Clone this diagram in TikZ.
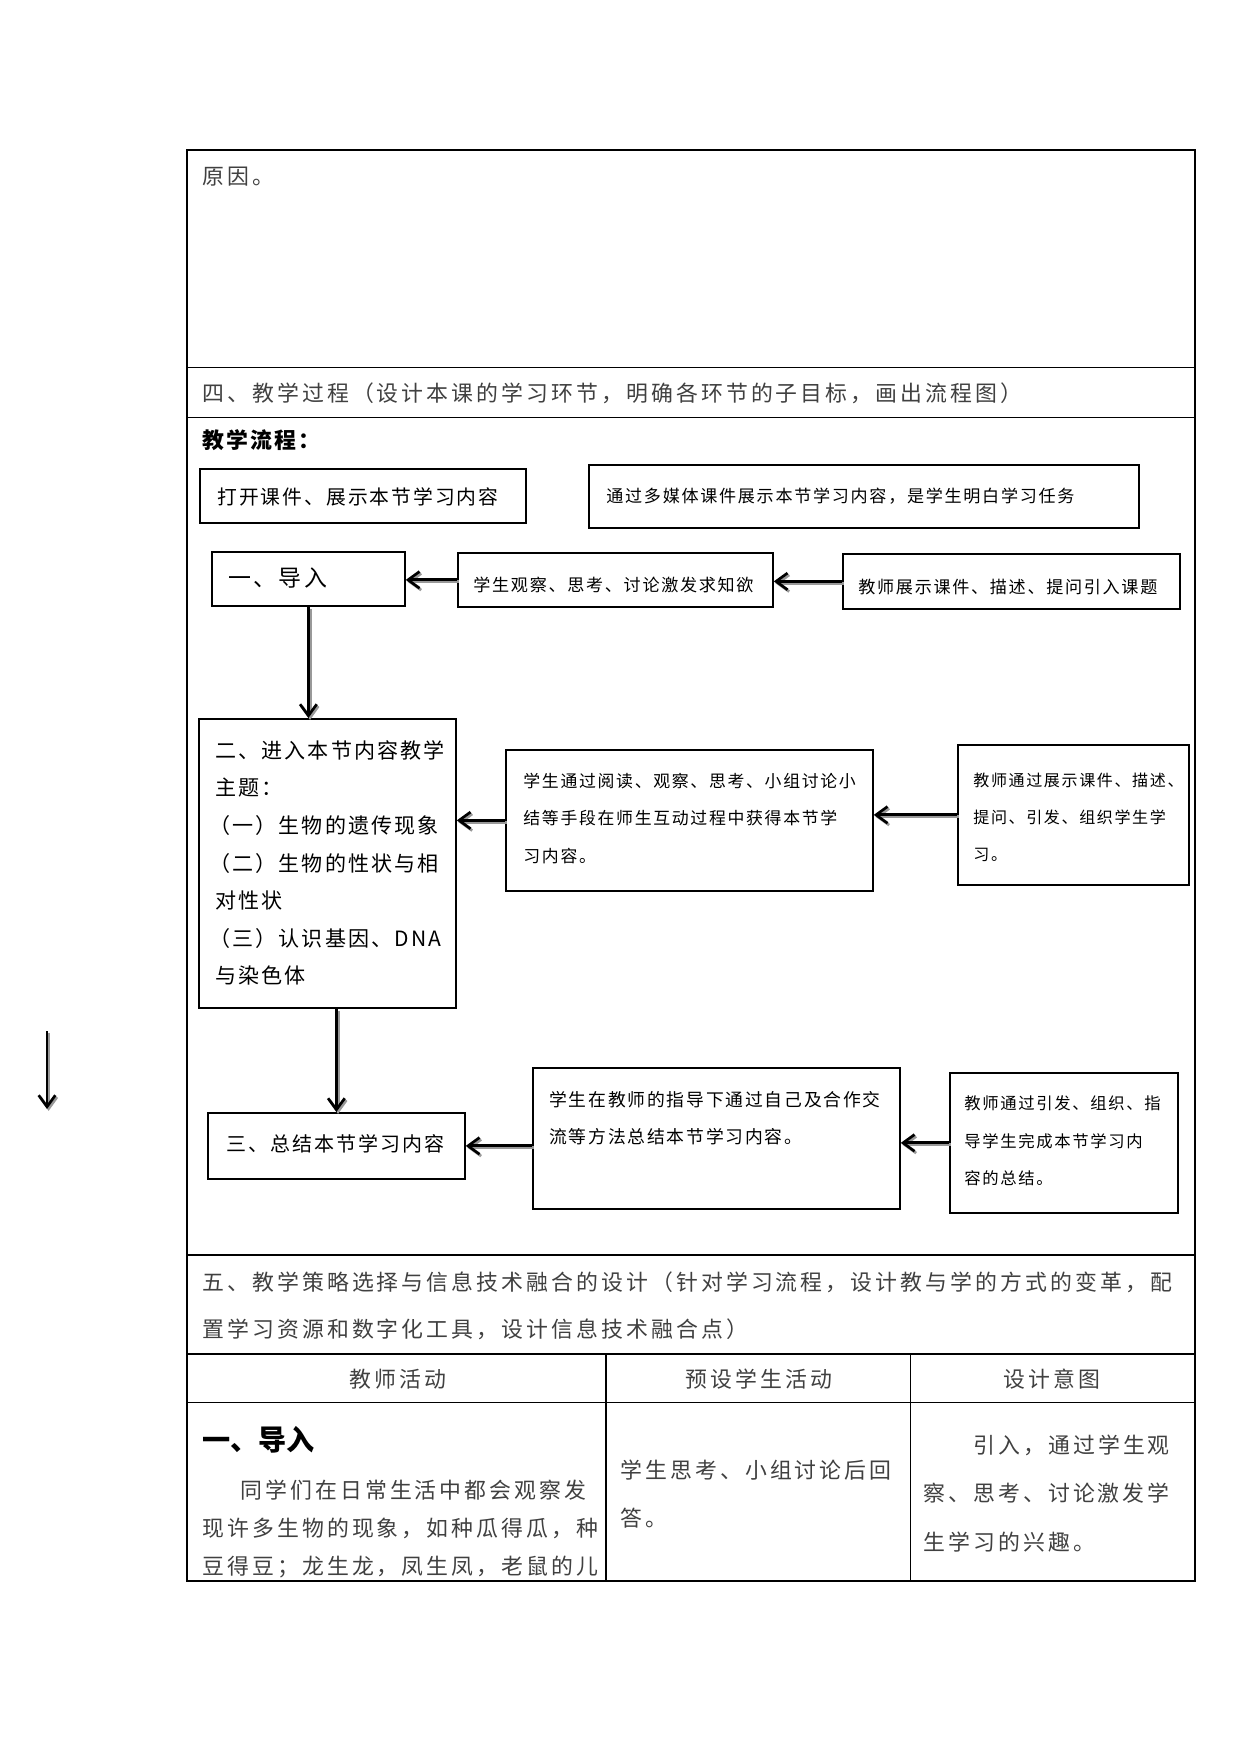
\documentclass[tikz,border=0pt]{standalone}
\usepackage{fontspec}
\setmainfont{Noto Sans CJK SC}
\newfontfamily\tabf[LetterSpace=14]{Noto Sans CJK SC}
\newfontfamily\boxf[LetterSpace=10]{Noto Sans CJK SC}
\newfontfamily\plainf{Noto Sans CJK SC}
\usetikzlibrary{arrows.meta}
\newcommand\flowbox[5]{\node[fbox, minimum width={(#4-#2)*0.48pt}, minimum height={(#5-#3)*0.48pt}] (#1) at (#2,#3) {};}
\newcommand\bsz[1]{\boxf\fontsize{#1pt}{#1pt}\selectfont}
\tikzset{
  tline/.style={line width=0.55pt, black},
  fbox/.style={draw, line width=0.85pt, inner sep=0pt, anchor=north west},
  ttxt/.style={inner sep=0pt, anchor=west, text=black!75, font=\tabf\fontsize{10.5pt}{12pt}\selectfont},
  btxt/.style={inner sep=0pt, anchor=west, text=black},
  arr/.style={line width=1.4pt, -{Straight Barb[length=5.5pt,width=8pt,line width=1.3pt]},
    preaction={draw=black!40, line width=1.4pt, -{Straight Barb[length=5.5pt,width=8pt,line width=1.3pt]},
      transform canvas={shift={(0.8pt,-0.9pt)}}}},
}
\begin{document}
\begin{tikzpicture}[x=0.48pt, y=-0.48pt]
\useasboundingbox (0,0) rectangle (1241,1754);

% ---------- table grid ----------
\draw[tline] (187,150) rectangle (1195,1581);
\draw[tline] (187,367.5) -- (1195,367.5);
\draw[tline] (187,417.5) -- (1195,417.5);
\draw[tline] (187,1255) -- (1195,1255);
\draw[tline] (187,1354) -- (1195,1354);
\draw[tline] (187,1402.5) -- (1195,1402.5);
\draw[tline] (606,1354) -- (606,1581);
\draw[tline] (910.5,1354) -- (910.5,1581);

% ---------- table texts ----------
\node[ttxt] (reason) at (202,177) {原因。};
\node[ttxt] (sec4) at (202,393) {四、教学过程（设计本课的学习环节，明确各环节的子目标，画出流程图）};
\node[btxt, font=\boxf\bfseries\fontsize{10.5pt}{12pt}\selectfont] (flowtitle) at (202,440) {教学流程：};

% ---------- flow boxes ----------
\flowbox{open}{199}{468}{525}{522}
\node[btxt, font=\bsz{9.5}] (opent) at (217,497) {打开课件、展示本节学习内容};

\flowbox{media}{588}{464}{1138}{527}
\node[btxt, font=\bsz{8.2}] (mediat) at (606,496) {通过多媒体课件展示本节学习内容，是学生明白学习任务};

\flowbox{intro}{211}{551}{404}{605}
\node[btxt, font=\bsz{11}] (introt) at (228,578) {一、导入};

\flowbox{obs}{457}{552}{772}{606}
\node[btxt, font=\bsz{8.2}] (obst) at (473,585) {学生观察、思考、讨论激发求知欲};

\flowbox{teach}{842}{553}{1179}{608}
\node[btxt, font=\bsz{8.2}] (teacht) at (858,587) {教师展示课件、描述、提问引入课题};

\flowbox{two}{198}{718}{455}{1007}
\node[btxt, font=\bsz{10.1}] (twoa) at (215,750) {二、进入本节内容教学};
\node[btxt, font=\bsz{10.1}] (twob) at (215,788) {主题：};
\node[btxt, font=\bsz{10.1}] (twoc) at (209,825) {（一）生物的遗传现象};
\node[btxt, font=\bsz{10.1}] (twod) at (209,863) {（二）生物的性状与相};
\node[btxt, font=\bsz{10.1}] (twoe) at (215,900) {对性状};
\node[btxt, font=\bsz{10.1}] (twof) at (209,938) {（三）认识基因、DNA};
\node[btxt, font=\bsz{10.1}] (twog) at (215,975) {与染色体};

\flowbox{mid}{505}{749}{872}{890}
\node[btxt, font=\bsz{8.1}] (mida) at (523,781) {学生通过阅读、观察、思考、小组讨论小};
\node[btxt, font=\bsz{8.1}] (midb) at (523,818.5) {结等手段在师生互动过程中获得本节学};
\node[btxt, font=\bsz{8.1}] (midc) at (523,856) {习内容。};

\flowbox{rt}{957}{744}{1188}{884}
\node[btxt, font=\bsz{7.7}] (rta) at (973,780) {教师通过展示课件、描述、};
\node[btxt, font=\bsz{7.7}] (rtb) at (973,817) {提问、引发、组织学生学};
\node[btxt, font=\bsz{7.7}] (rtc) at (973,855) {习。};

\flowbox{three}{207}{1112}{464}{1178}
\node[btxt, font=\bsz{9.6}] (threet) at (226,1144) {三、总结本节学习内容};

\flowbox{sum}{532}{1067}{899}{1208}
\node[btxt, font=\bsz{8.55}] (suma) at (549,1100) {学生在教师的指导下通过自己及合作交};
\node[btxt, font=\bsz{8.55}] (sumb) at (549,1137) {流等方法总结本节学习内容。};

\flowbox{rt2}{949}{1072}{1177}{1212}
\node[btxt, font=\bsz{7.85}] (rt2a) at (964,1103) {教师通过引发、组织、指};
\node[btxt, font=\bsz{7.85}] (rt2b) at (964,1141) {导学生完成本节学习内};
\node[btxt, font=\bsz{7.85}] (rt2c) at (964,1178) {容的总结。};

% ---------- arrows ----------
\draw[arr] (obs.west) -- (obs.west -| intro.east);
\draw[arr] (teach.west) -- (teach.west -| obs.east);
\draw[arr] (intro.south) -- (intro.south |- two.north);
\draw[arr] (mid.west) -- (mid.west -| two.east);
\draw[arr] (rt.west) -- (rt.west -| mid.east);
\draw[arr] (two.south -| three.north) -- (three.north);
\draw[arr] (three.east -| sum.west) -- (three.east);
\draw[arr] (rt2.west) -- (rt2.west -| sum.east);
\coordinate (fa) at (47,1031);
\coordinate (fb) at (47,1109);
\draw[arr] (fa) -- (fb);

% ---------- section five ----------
\node[ttxt] (sec5a) at (202,1282) {五、教学策略选择与信息技术融合的设计（针对学习流程，设计教与学的方式的变革，配};
\node[ttxt] (sec5b) at (202,1329) {置学习资源和数字化工具，设计信息技术融合点）};
\node[ttxt, anchor=center] (h1) at (398,1379) {教师活动};
\node[ttxt, anchor=center] (h2) at (759,1379) {预设学生活动};
\node[ttxt, anchor=center] (h3) at (1052,1379) {设计意图};

\node[btxt, font=\plainf\bfseries\fontsize{13.5pt}{15pt}\selectfont] (c1t) at (202,1440) {一、导入};
\node[ttxt] (c1a) at (240,1490) {同学们在日常生活中都会观察发};
\node[ttxt] (c1b) at (202,1528) {现许多生物的现象，如种瓜得瓜，种};
\node[ttxt] (c1c) at (202,1567) {豆得豆；龙生龙，凤生凤，老鼠的儿};

\node[ttxt] (c2a) at (620,1470) {学生思考、小组讨论后回};
\node[ttxt] (c2b) at (620,1518) {答。};

\node[ttxt] (c3a) at (973,1445) {引入，通过学生观};
\node[ttxt] (c3b) at (923,1493) {察、思考、讨论激发学};
\node[ttxt] (c3c) at (923,1542) {生学习的兴趣。};
\end{tikzpicture}
\end{document}
